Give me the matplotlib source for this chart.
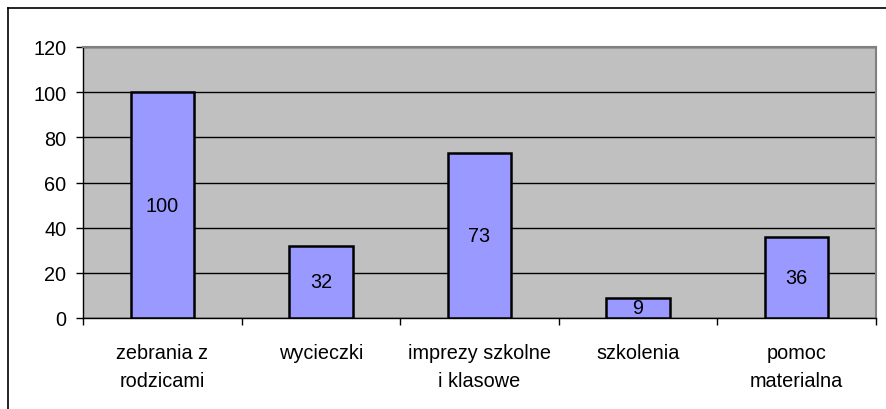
import matplotlib
matplotlib.use("Agg")
import matplotlib.pyplot as plt
from matplotlib.lines import Line2D

categories = ["zebrania z\nrodzicami", "wycieczki", "imprezy szkolne\ni klasowe", "szkolenia", "pomoc\nmaterialna"]
values = [100, 32, 73, 9, 36]
yticks = [0, 20, 40, 60, 80, 100, 120]

plt.rcParams['font.family'] = ['Liberation Sans', 'DejaVu Sans']
W, H = 886, 410
fig = plt.figure(figsize=(W / 100, H / 100), dpi=100)

# outer chart border (top and left visible)
fig.add_artist(Line2D([8 / W, 1.0], [1 - 9 / H, 1 - 9 / H], color='black', lw=1.2, transform=fig.transFigure))
fig.add_artist(Line2D([8 / W, 8 / W], [0, 1 - 9 / H], color='black', lw=1.2, transform=fig.transFigure))

left, right, top, bottom = 83, 876, 48, 319
ax = fig.add_axes([left / W, 1 - bottom / H, (right - left) / W, (bottom - top) / H])
ax.set_facecolor('#C0C0C0')
for s in ax.spines.values():
    s.set_color('#808080')
    s.set_linewidth(1.5)
ax.spines['bottom'].set_color('#000000')
ax.spines['bottom'].set_linewidth(1.0)
ax.spines['left'].set_color('#000000')
ax.spines['left'].set_linewidth(1.0)

fs = 14.3
x = list(range(len(values)))
bars = ax.bar(x, values, width=0.4, color='#9999FF', edgecolor='black', linewidth=1.8, zorder=3)
ax.set_xlim(-0.5, len(values) - 0.5)
ax.set_ylim(0, 120)
ax.set_yticks(yticks)
ax.yaxis.grid(True, color='#000000', linewidth=1.0, zorder=0)
ax.set_axisbelow(True)
ax.tick_params(axis='y', direction='out', length=5, width=1, labelsize=fs, pad=7)

ax.set_xticks([i + 0.5 for i in x[:-1]] + [-0.5, len(values) - 0.5])
ax.set_xticklabels([])
ax.tick_params(axis='x', direction='out', length=5, width=1)
for i, c in enumerate(categories):
    ax.text(i, -11.2, c, ha='center', va='top', fontsize=fs, linespacing=1.6,
            transform=ax.transData, clip_on=False)

for i, v in enumerate(values):
    ax.text(i, v / 2, str(v), ha='center', va='center', fontsize=fs, zorder=4)

fig.savefig("out.png", dpi=100)
